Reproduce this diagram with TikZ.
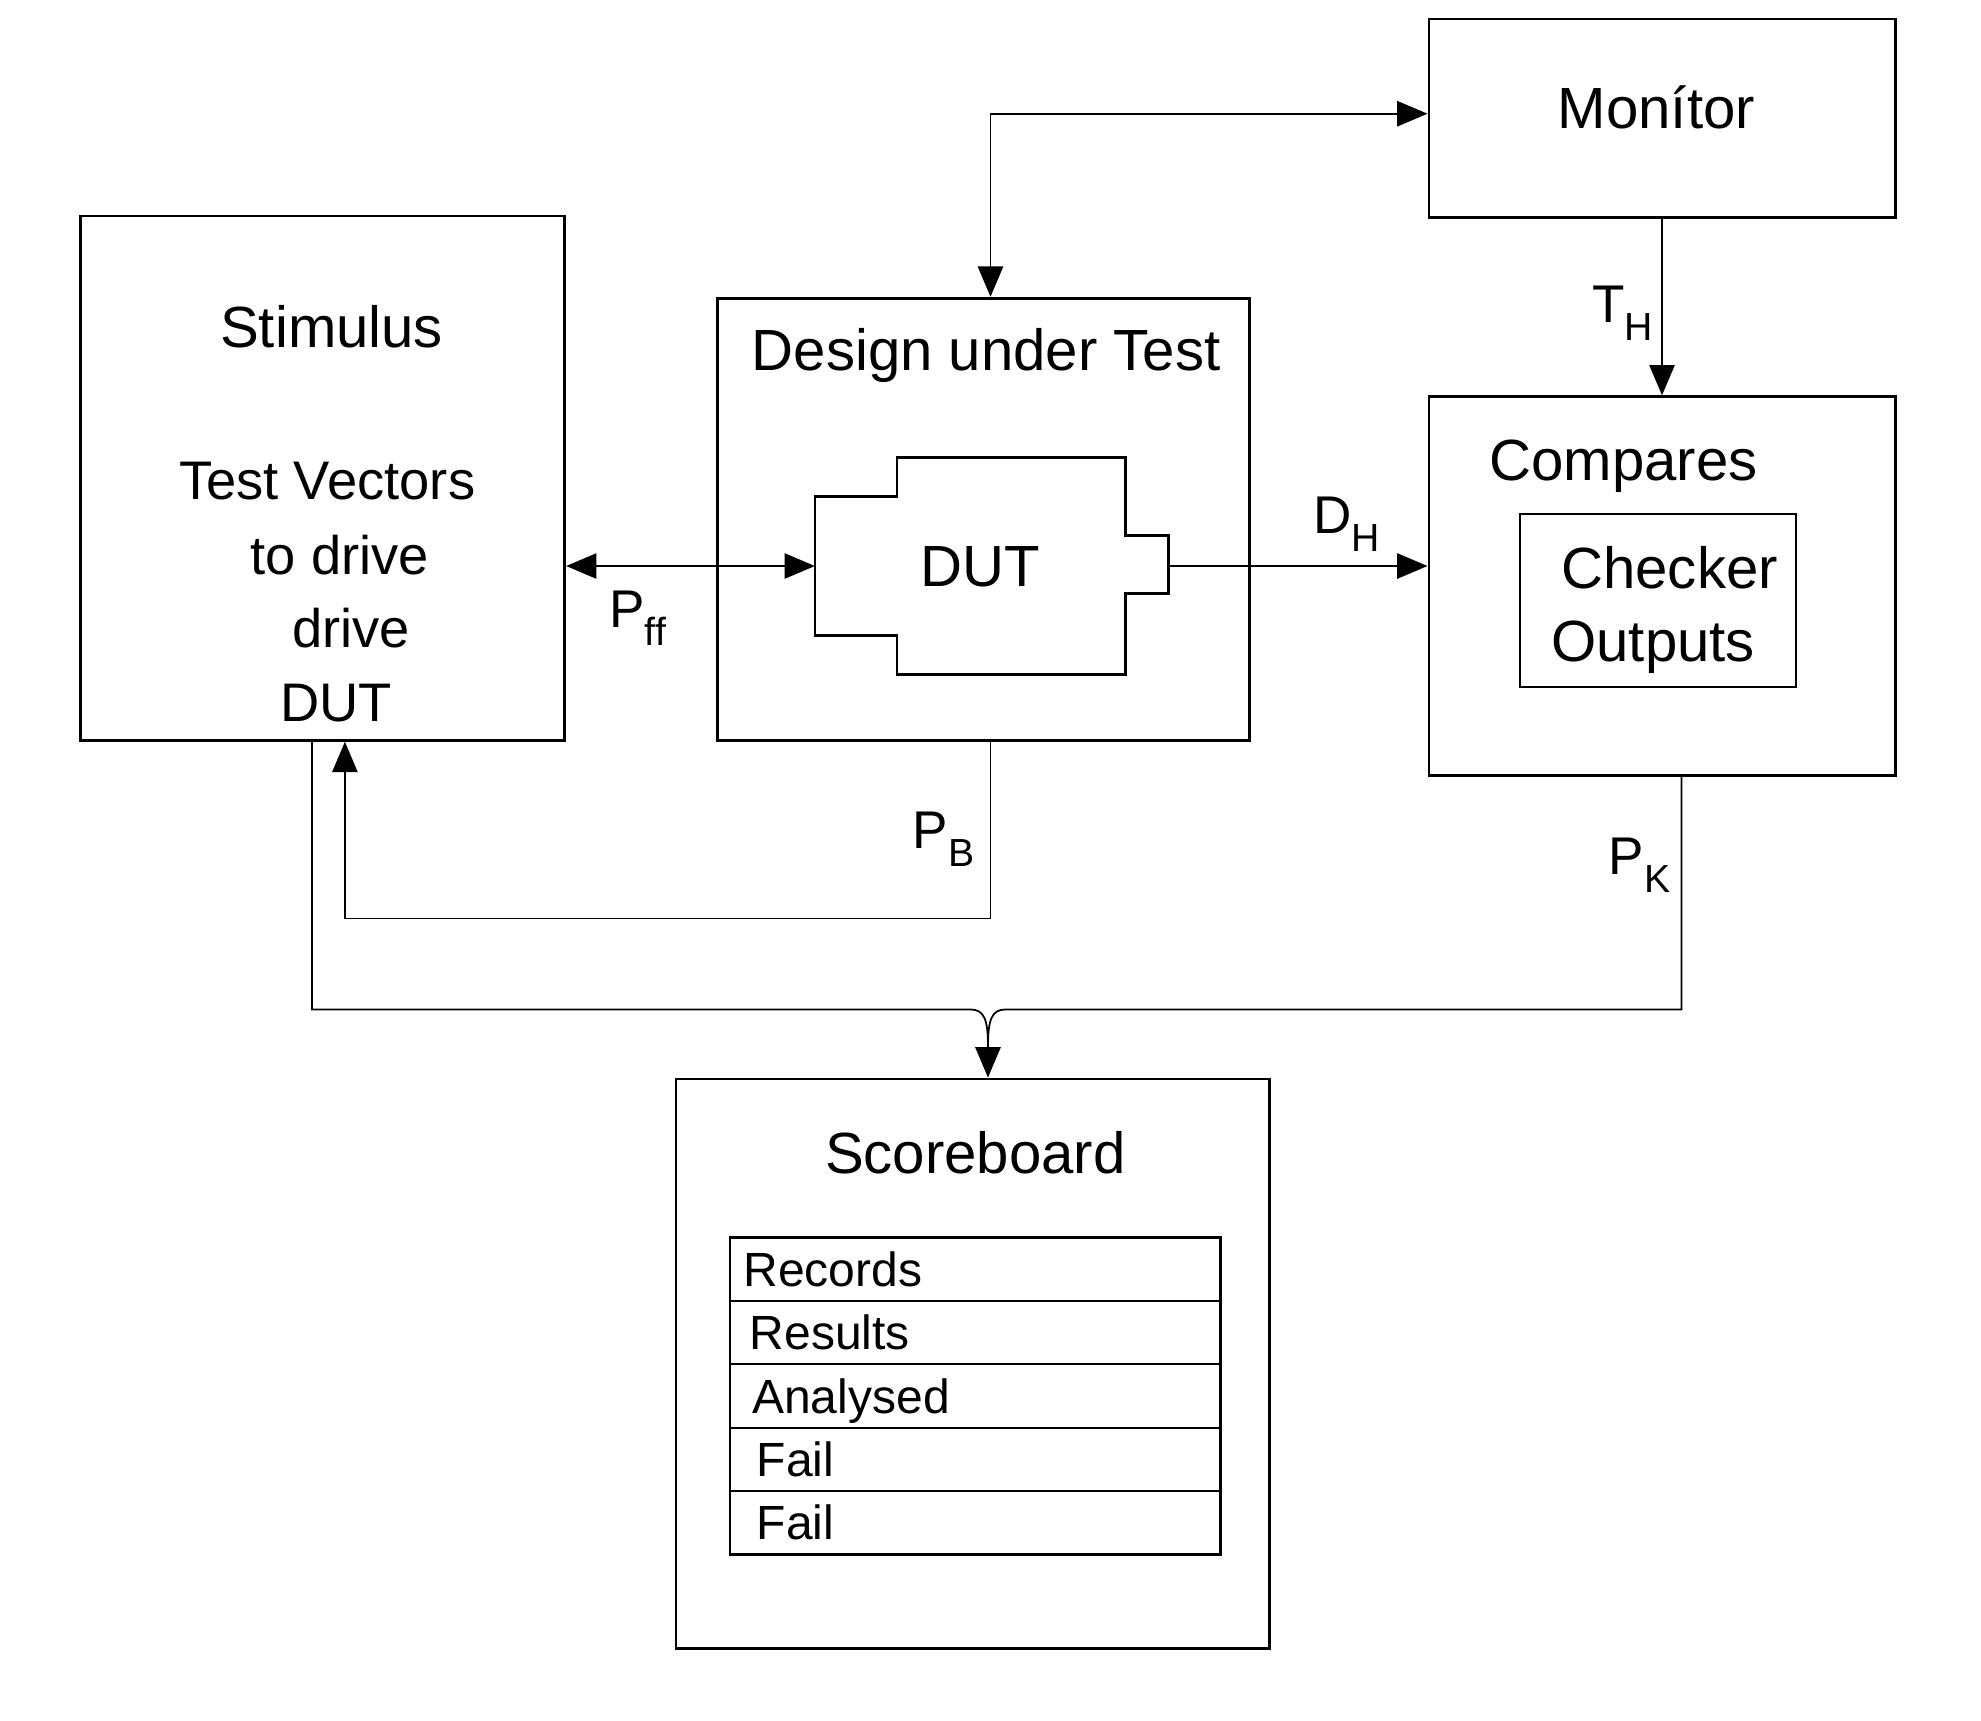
\documentclass[tikz,border=0pt]{standalone}
\usepackage{fontspec}
\setmainfont{Liberation Sans}
\usetikzlibrary{arrows.meta, positioning}
\tikzstyle{box} = [rectangle, draw, line width=1.1pt, inner sep=0pt]
\tikzstyle{arrow} = [line width=0.7pt,-{Triangle[length=12pt,width=10pt]}]
\tikzstyle{dblarrow} = [line width=0.7pt,{Triangle[length=12pt,width=10pt]}-{Triangle[length=12pt,width=10pt]}]
\tikzstyle{wire} = [line width=0.7pt]
\tikzstyle{boxtitle} = [inner sep=0pt, anchor=base, font=\fontsize{23}{27}\selectfont]
\tikzstyle{boxtext} = [inner sep=0pt, anchor=base, font=\fontsize{21.5}{25}\selectfont]
\tikzstyle{lbl} = [inner sep=0pt, anchor=base west, font=\fontsize{21}{25}\selectfont]
\tikzstyle{tablerow} = [rectangle, draw, line width=0.9pt, minimum width=194pt, minimum height=25.1pt, inner sep=0pt, outer sep=0pt]
\tikzstyle{celltxt} = [inner sep=0pt, text height=13.6pt, text depth=0pt, font=\fontsize{19}{22}\selectfont]
\newcommand{\sublbl}[2]{#1\raisebox{-7pt}{\fontsize{15.5}{16}\selectfont #2}}

\begin{document}
\begin{tikzpicture}[x=0.5pt,y=-0.5pt]
\useasboundingbox (0,0) rectangle (1568,1361.5);

\node [box, minimum width=191.5pt, minimum height=207.5pt] (stim) at (255.5,378.5) {};
\node [boxtitle] (stimt) at (262.5,275) {Stimulus};
\node [boxtext] (stim1) at (259,395) {Test Vectors};
\node [boxtext] (stim2) at (269,455) {to drive};
\node [boxtext] (stim3) at (278,512.5) {drive};
\node [boxtext] (stim4) at (266,571) {DUT};

\node [box, minimum width=210.5pt, minimum height=175pt] (dsn) at (778.5,411) {};
\node [boxtitle] (dsnt) at (780.5,293) {Design under Test};
\draw [line width=1.1pt] (645,393) -- (710,393) -- (710,362) -- (891,362) -- (891,424)
  -- (925,424) -- (925,470) -- (891,470) -- (891,534) -- (710,534) -- (710,503) -- (645,503) -- cycle;
\coordinate (dutw) at (645,448);
\coordinate (dute) at (925,448);
\node [boxtitle] (dutt) at (776,464) {DUT};

\node [box, minimum width=184.5pt, minimum height=78.5pt] (mon) at (1315.5,93.5) {};
\node [boxtitle] (mont) at (1311,101.5) {Monítor};

\node [box, minimum width=184.5pt, minimum height=150pt] (cmp) at (1315.5,464) {};
\node [boxtitle] (cmpt) at (1285,380) {Compares};
\node [box, line width=0.8pt, minimum width=109.5pt, minimum height=68.5pt] (chk) at (1312.25,475.5) {};
\node [boxtitle] (chk1) at (1321.5,465.5) {Checker};
\node [boxtitle] (chk2) at (1308.5,523.5) {Outputs};

\node [box, minimum width=235pt, minimum height=225.5pt] (sb) at (770,1079.5) {};
\node [boxtitle] (sbt) at (772,929) {Scoreboard};
\node [tablerow] (r1) at (772,1004.5) {};
\node [tablerow] (r2) [below=0pt of r1] {};
\node [tablerow] (r3) [below=0pt of r2] {};
\node [tablerow] (r4) [below=0pt of r3] {};
\node [tablerow] (r5) [below=0pt of r4] {};
\node [celltxt] (c1) [right=5pt of r1.west] {Records};
\node [celltxt] (c2) [right=7.5pt of r2.west] {Results};
\node [celltxt] (c3) [right=8.5pt of r3.west] {Analysed};
\node [celltxt] (c4) [right=10.3pt of r4.west] {Fail};
\node [celltxt] (c5) [right=10.3pt of r5.west] {Fail};

% signal labels
\node [lbl] (pff) at (482,497) {\sublbl{P}{ff}};
\node [lbl] (pb) at (722,671.5) {\sublbl{P}{B}};
\node [lbl] (dh) at (1039,422.5) {\sublbl{D}{H}};
\node [lbl] (th) at (1260,255.5) {\sublbl{T}{H}};
\node [lbl] (pk) at (1273,692.5) {\sublbl{P}{K}};

\coordinate (mcorner) at (784,90);
\coordinate (pbc) at (784,727);
\coordinate (pbl) at (273,727);
\coordinate (sbl) at (247,799);
\coordinate (sbr) at (1331,799);
\coordinate (sbm) at (782,828);

\draw [dblarrow] (dsn.north -| mcorner) -- (mcorner) -- (mcorner -| mon.west);
\draw [arrow] (mon) -- (cmp);
\draw [dblarrow] (stim.east |- dutw) -- (dutw);
\draw [arrow] (dute) -- (dute -| cmp.west);
\draw [arrow] (dsn.south -| pbc) |- (pbl) -- (pbl |- stim.south);

\draw [wire] (stim.south -| sbl) -- (sbl) -- (768,799) .. controls (779,799) and (782,807) .. (sbm);
\draw [wire] (cmp.south -| sbr) -- (sbr) -- (796,799) .. controls (785,799) and (782,807) .. (sbm);
\draw [arrow] (sbm) -- (sbm |- sb.north);

\end{tikzpicture}
\end{document}
